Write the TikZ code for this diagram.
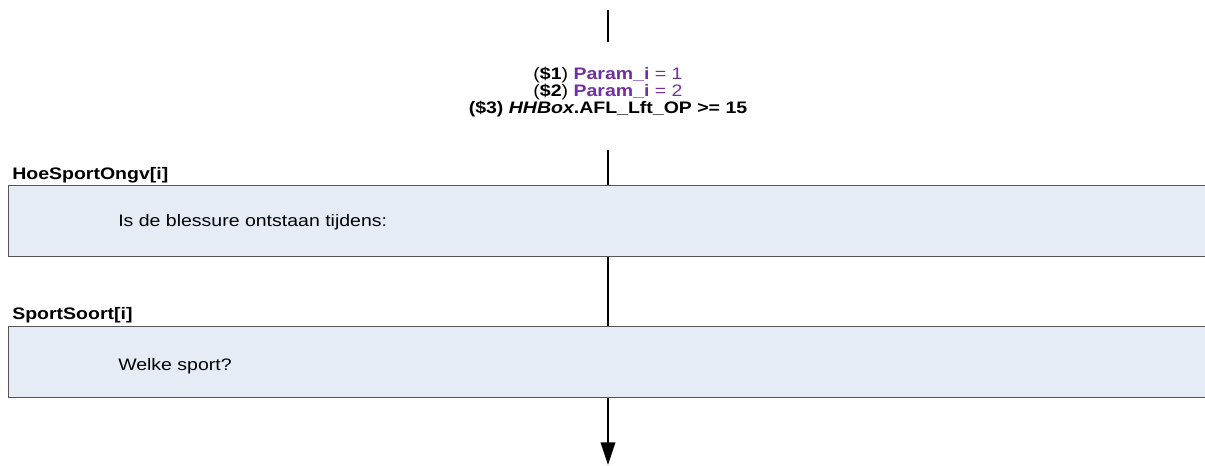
\documentclass[tikz,border=0pt]{standalone}
\usepackage{fontspec}
\setmainfont{Liberation Sans}[FakeStretch=1.17]
\usetikzlibrary{arrows.meta}
\definecolor{qpurple}{HTML}{7030A0}
\definecolor{qfill}{HTML}{E6ECF6}
\definecolor{qedge}{HTML}{555555}
\tikzset{
  flow/.style={line width=1pt},
  qbox/.style={draw=qedge,line width=1pt,fill=qfill,anchor=north west,
    minimum width=910pt,minimum height=52.9pt,inner sep=0pt},
  qname/.style={anchor=base west,font=\fontsize{12.5}{13}\selectfont\bfseries,inner sep=0pt},
  qtext/.style={anchor=base west,font=\fontsize{12.5}{13}\selectfont,inner sep=0pt},
  qcond/.style={anchor=base,font=\fontsize{12.5}{13}\selectfont,inner sep=0pt}
}
\begin{document}
\begin{tikzpicture}[x=0.75pt,y=-0.75pt]
\useasboundingbox (0,0) rectangle (1205,466);
\clip (0,0) rectangle (1205,466);
% voorwaarde
\coordinate (top) at (608,10);
\coordinate (c1) at (608,42);
\node[qcond] (cond1) at (608,80)
  {(\textbf{\$1}) \textcolor{qpurple}{\textbf{Param\_i} = 1}};
\node[qcond] (cond2) at (608,97)
  {(\textbf{\$2}) \textcolor{qpurple}{\textbf{Param\_i} = 2}};
\node[qcond] (cond3) at (608,114)
  {\textbf{(\$3) \textit{HHBox}.AFL\_Lft\_OP >= 15}};
\coordinate (c2) at (608,150);
% vragen
\node[qname] (n1) at (12,180) {HoeSportOngv[i]};
\node[qbox] (box1) at (8,185) {};
\node[qtext] (t1) at (118,227) {Is de blessure ontstaan tijdens:};
\node[qname] (n2) at (12,320) {SportSoort[i]};
\node[qbox] (box2) at (8,326) {};
\node[qtext] (t2) at (118,370) {Welke sport?};
\coordinate (end) at (608,465);
% lijnen
\draw[flow] (top) -- (c1);
\draw[flow] (c2) -- (c2 |- box1.north);
\draw[flow] (c2 |- box1.south) -- (c2 |- box2.north);
\draw[flow,-{Triangle[length=17pt,width=11pt]}] (c2 |- box2.south) -- (end);
\end{tikzpicture}
\end{document}
